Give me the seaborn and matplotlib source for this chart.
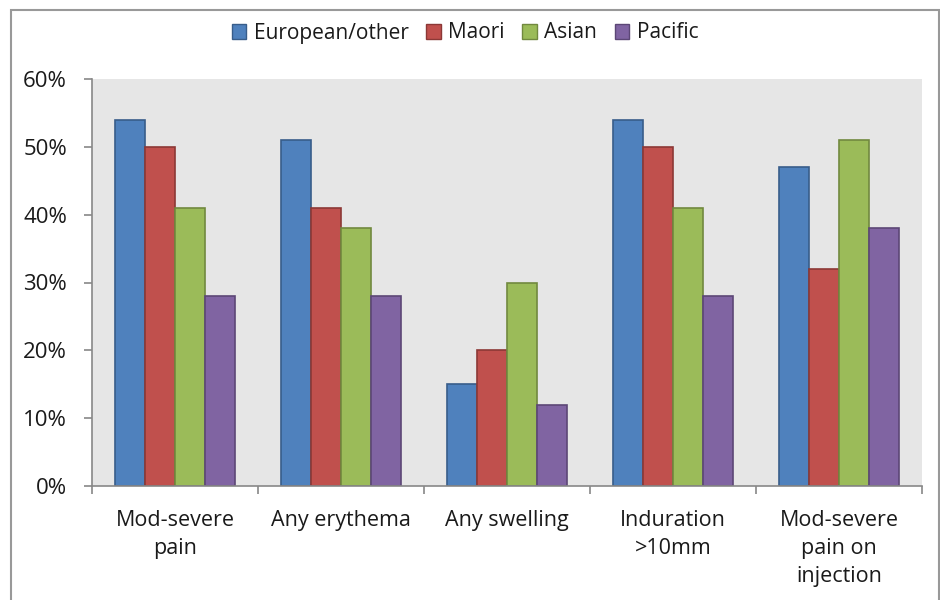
import matplotlib
matplotlib.use("Agg")
import matplotlib.pyplot as plt
import seaborn as sns
import pandas as pd
from matplotlib.patches import Rectangle
from matplotlib.ticker import FixedLocator, PercentFormatter

categories = ["Mod-severe\npain", "Any erythema", "Any swelling", "Induration\n>10mm", "Mod-severe\npain on\ninjection"]
groups = ["European/other", "Maori", "Asian", "Pacific"]
european = [54, 51, 15, 54, 47]
maori = [50, 41, 20, 50, 32]
asian = [41, 38, 30, 41, 51]
pacific = [28, 28, 12, 28, 38]

fill_colors = ["#4F81BD", "#C0504D", "#9BBB59", "#8064A2"]
edge_colors = ["#385D8A", "#8C3836", "#71893F", "#5C4776"]

series = [european, maori, asian, pacific]
rows = []
for g, vals in zip(groups, series):
    for c, v in zip(categories, vals):
        rows.append({"category": c, "group": g, "value": v})
df = pd.DataFrame(rows)

sns.set_theme(style="white")
plt.rcParams["font.family"] = ["Open Sans", "DejaVu Sans"]

FS = 15.5

fig = plt.figure(figsize=(9.4, 6.0), dpi=100)
ax = fig.add_axes([92/940, 114/600, 830/940, 407/600])

sns.barplot(data=df, x="category", y="value", hue="group", order=categories,
            hue_order=groups, palette=fill_colors, width=0.72, ax=ax,
            linewidth=1.2, saturation=1, errorbar=None)

for cont, ec in zip(ax.containers, edge_colors):
    for bar in cont:
        bar.set_edgecolor(ec)

ax.set_facecolor("#E6E6E6")
ax.set_ylim(0, 60)
ax.set_xlim(-0.5, 4.5)
ax.yaxis.set_major_locator(FixedLocator([0, 10, 20, 30, 40, 50, 60]))
ax.yaxis.set_major_formatter(PercentFormatter(decimals=0))
ax.set_xlabel("")
ax.set_ylabel("")

for s in ["top", "right"]:
    ax.spines[s].set_visible(False)
for s in ["left", "bottom"]:
    ax.spines[s].set_color("#888888")
    ax.spines[s].set_linewidth(1.2)

ax.tick_params(axis="y", which="major", direction="out", length=6, width=1.2,
               color="#888888", labelsize=FS + 0.5, pad=12, labelcolor="#1a1a1a", left=True)
ax.set_xticks(range(len(categories)))
ax.set_xticklabels(categories, linespacing=1.45)
ax.tick_params(axis="x", which="major", length=0, labelsize=FS, pad=17, labelcolor="#1a1a1a")
ax.set_xticks([i - 0.5 for i in range(len(categories) + 1)], minor=True)
ax.tick_params(axis="x", which="minor", direction="out", length=6, width=1.2,
               color="#888888", bottom=True)
for lbl in ax.get_xticklabels():
    lbl.set_verticalalignment("top")

ax.legend_.remove()
handles = [Rectangle((0, 0), 1, 1, facecolor=fc, edgecolor=ec, linewidth=1)
           for fc, ec in zip(fill_colors, edge_colors)]
fig.legend(handles, groups, loc="center", bbox_to_anchor=(465/940, 1 - 33/600),
           ncol=4, frameon=False, fontsize=15, handlelength=0.7, handleheight=0.7,
           handletextpad=0.35, columnspacing=0.85, labelcolor="#1a1a1a")

border = Rectangle((11/940, -0.05), (939 - 11)/940, 1.05 - 10/600,
                   transform=fig.transFigure, fill=False, edgecolor="#999999",
                   linewidth=1.5)
fig.add_artist(border)

fig.savefig("out.png", dpi=100, facecolor="white")
